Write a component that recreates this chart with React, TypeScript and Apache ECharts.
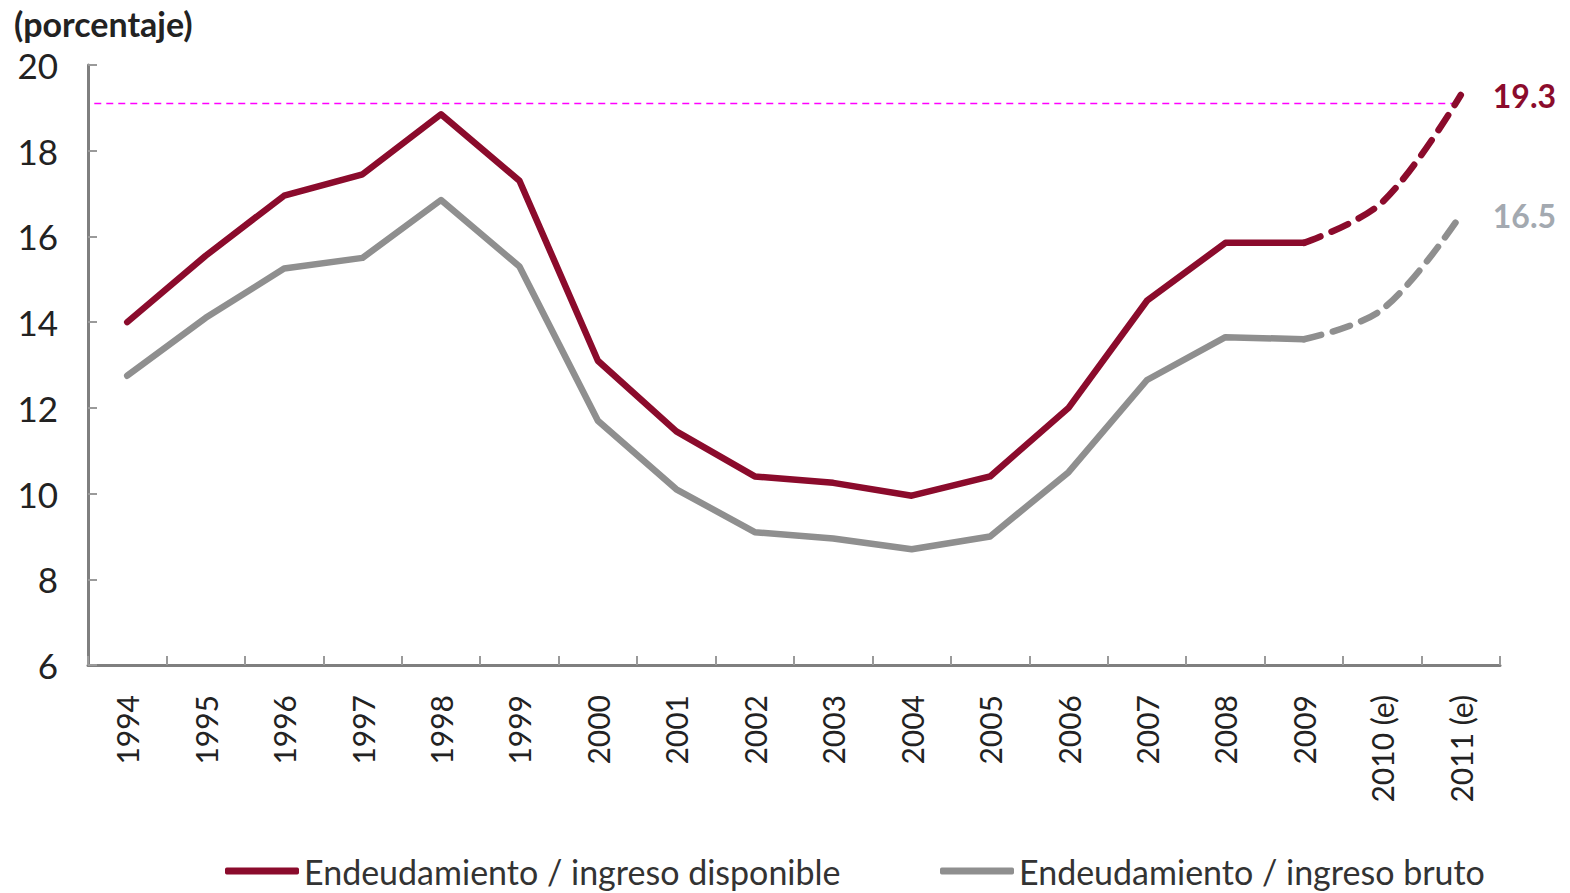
import React, { useEffect, useRef } from "react";
import * as echarts from "echarts";

const categories = ["1994","1995","1996","1997","1998","1999","2000","2001","2002","2003","2004","2005","2006","2007","2008","2009","2010 (e)","2011 (e)"];
const disponible = [14.0, 15.55, 16.95, 17.45, 18.85, 17.3, 13.1, 11.45, 10.4, 10.25, 9.95, 10.4, 12.0, 14.5, 15.85, 15.85, 16.8, 19.3];
const bruto = [12.75, 14.1, 15.25, 15.5, 16.85, 15.3, 11.7, 10.1, 9.1, 8.95, 8.7, 9.0, 10.5, 12.65, 13.65, 13.6, 14.3, 16.5];
const refLevel = 19.1;
const lastActual = 15; // index of 2009
const yTicks = { min: 6, max: 20, interval: 2 };
const nameDisp = "Endeudamiento / ingreso disponible";
const nameBruto = "Endeudamiento / ingreso bruto";
const unitLabel = "(porcentaje)";

const RED = "#8b0b2c";
const GRAY = "#8f8f8f";
const FONT = "Lato";

function solidPart(arr: number[]) {
  return arr.map((v, i) => (i <= lastActual ? v : null));
}
function dashPart(arr: number[]) {
  return arr.map((v, i) => (i < lastActual ? null : v));
}
function endLabel(color: string) {
  return {
    show: true,
    distance: 32,
    formatter: (p: any) => Number(Array.isArray(p.value) ? p.value[1] : p.value).toFixed(1),
    color,
    fontFamily: FONT,
    fontWeight: "bold",
    fontSize: 32,
  };
}

export default function App() {
  const ref = useRef<HTMLDivElement>(null);
  useEffect(() => {
    if (!ref.current) return;
    const chart = echarts.init(ref.current, null, { renderer: "svg" });
    chart.setOption({
      animation: false,
      backgroundColor: "#ffffff",
      textStyle: { fontFamily: FONT },
      title: {
        text: unitLabel,
        left: 9,
        top: 1,
        textStyle: { fontFamily: FONT, fontWeight: "bold", fontSize: 34, color: "#222" },
      },
      grid: { left: 88, right: 70, top: 65, bottom: 228, containLabel: false },
      legend: [
        {
          data: [nameDisp],
          left: 220,
          bottom: 0,
          icon: "roundRect",
          itemWidth: 74,
          itemHeight: 7,
          itemGap: 6,
          textStyle: { fontFamily: FONT, fontSize: 34, color: "#333" },
        },
        {
          data: [nameBruto],
          left: 935,
          bottom: 0,
          icon: "roundRect",
          itemWidth: 74,
          itemHeight: 7,
          textStyle: { fontFamily: FONT, fontSize: 34, color: "#333" },
        },
      ],
      xAxis: [
        {
          type: "category",
          data: categories,
          boundaryGap: true,
          axisLine: { onZero: false, lineStyle: { color: "#7f7f7f", width: 3 } },
          axisTick: { show: true, inside: true, length: 9, lineStyle: { color: "#9a9a9a", width: 2 } },
          axisLabel: {
            rotate: 90,
            margin: 30,
            fontFamily: FONT,
            fontSize: 30,
            color: "#222",
            interval: 0,
          },
          splitLine: { show: false },
        },
        { type: "value", min: -0.5, max: 17.5, show: false },
      ],
      yAxis: {
        type: "value",
        min: yTicks.min,
        max: yTicks.max,
        interval: yTicks.interval,
        axisLine: { show: true, onZero: false, lineStyle: { color: "#7f7f7f", width: 3 } },
        axisTick: { show: true, inside: true, length: 9, lineStyle: { color: "#9a9a9a", width: 2 } },
        axisLabel: { margin: 30, fontFamily: FONT, fontSize: 35, color: "#222" },
        splitLine: { show: false },
      },
      series: [
        {
          name: "ref",
          type: "line",
          xAxisIndex: 1,
          data: [[-0.42, refLevel], [17, refLevel]],
          symbol: "none",
          lineStyle: { color: "#ff00ff", width: 1.5, type: [7, 5] },
          silent: true,
          z: 1,
        },
        {
          name: nameDisp,
          type: "line",
          data: solidPart(disponible),
          symbol: "none",
          color: RED,
          lineStyle: { color: RED, width: 6.5, cap: "round", join: "round" },
          z: 3,
        },
        {
          name: nameDisp + " (e)",
          type: "line",
          data: dashPart(disponible),
          symbol: "none",
          smooth: 0.35,
          color: RED,
          lineStyle: { color: RED, width: 6.5, type: [18, 12], cap: "round" },
          endLabel: endLabel(RED),
          z: 3,
        },
        {
          name: nameBruto,
          type: "line",
          data: solidPart(bruto),
          symbol: "none",
          color: GRAY,
          lineStyle: { color: GRAY, width: 6.5, cap: "round", join: "round" },
          z: 2,
        },
        {
          name: nameBruto + " (e)",
          type: "line",
          data: dashPart(bruto),
          symbol: "none",
          smooth: 0.35,
          color: GRAY,
          lineStyle: { color: GRAY, width: 6.5, type: [18, 12], cap: "round" },
          endLabel: endLabel("#a3a9b0"),
          z: 2,
        },
      ],
    });
    return () => chart.dispose();
  }, []);
  return <div ref={ref} style={{ position: "fixed", left: 0, top: 0, width: 1570, height: 893 }} />;
}
